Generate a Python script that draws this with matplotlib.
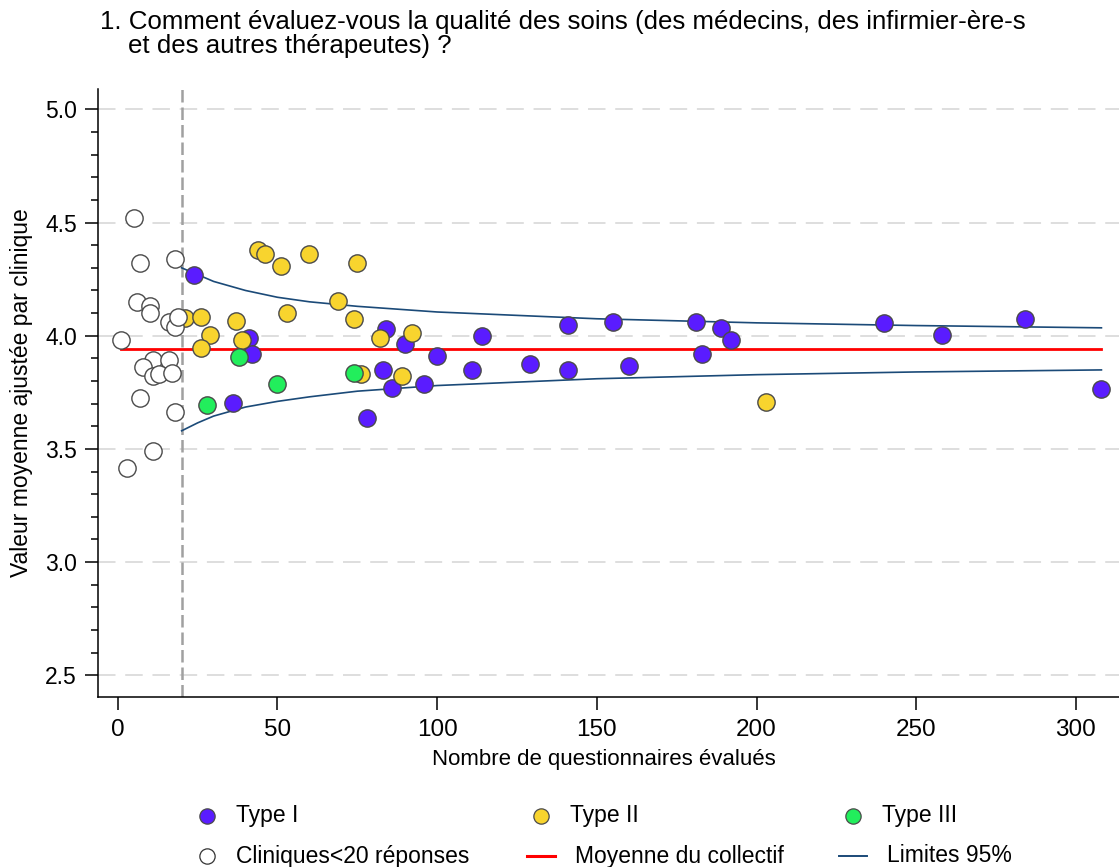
import matplotlib
matplotlib.use('Agg')
import matplotlib.pyplot as plt
from matplotlib.lines import Line2D

plt.rcParams['font.family'] = ['Liberation Sans', 'DejaVu Sans']
plt.rcParams['font.size'] = 16

# clinics by type: number of questionnaires, adjusted mean
type1_n = [24, 41, 42, 36, 84, 90, 83, 86, 78, 96, 100, 114, 111, 129, 141, 141,
           155, 160, 181, 183, 189, 192, 240, 258, 284, 308]
type1_y = [4.27, 3.99, 3.92, 3.705, 4.03, 3.965, 3.85, 3.77, 3.637, 3.785, 3.91, 4.0,
           3.85, 3.875, 4.048, 3.85, 4.06, 3.865, 4.062, 3.92, 4.033, 3.98, 4.055,
           4.005, 4.073, 3.765]
type2_n = [44, 46, 51, 60, 75, 69, 53, 74, 21, 26, 37, 29, 39, 26, 82, 92, 76, 89, 203]
type2_y = [4.38, 4.36, 4.31, 4.36, 4.32, 4.155, 4.10, 4.075, 4.08, 4.085, 4.066,
           4.005, 3.98, 3.945, 3.99, 4.01, 3.83, 3.82, 3.707]
type3_n = [38, 28, 50, 74]
type3_y = [3.905, 3.695, 3.788, 3.836]
small_n = [5, 7, 18, 6, 10, 10, 16, 18, 19, 1, 11, 16, 8, 11, 13, 17, 7, 18, 11, 3]
small_y = [4.52, 4.32, 4.34, 4.15, 4.13, 4.10, 4.06, 4.04, 4.085, 3.98, 3.895, 3.895,
           3.86, 3.82, 3.83, 3.835, 3.725, 3.665, 3.49, 3.415]

mean_value = 3.942
mean_range = [1, 308]

# 95% limits read at a few sample sizes
lim_n = [20, 25, 30, 40, 50, 60, 75, 100, 125, 150, 200, 250, 308]
lim_upper = [4.30, 4.27, 4.24, 4.20, 4.17, 4.15, 4.13, 4.105, 4.09, 4.075, 4.057, 4.045, 4.035]
lim_lower = [3.58, 3.615, 3.645, 3.685, 3.71, 3.73, 3.755, 3.78, 3.795, 3.81, 3.828, 3.84, 3.849]

cutoff = 20

purple = '#5A1CFF'
yellow = '#F8D42E'
green = '#22EE5C'
edge = '#4A4A4A'
navy = '#1B4A78'

W, H = 1119, 867
fig = plt.figure(figsize=(W / 100, H / 100), dpi=100)
ax = fig.add_axes([97.8 / W, 1 - 696.7 / H, 1 - 97.8 / W, (696.7 - 89.3) / H])

ax.set_xlim(-6.26, 313.5)
ax.set_ylim(2.405, 5.089)

for yv in [2.5, 3.0, 3.5, 4.0, 4.5, 5.0]:
    ax.axhline(yv, color='#DEDEDE', lw=1.4, ls=(0, (9, 5)), zorder=0)
ax.axvline(cutoff, color='#A0A0A0', lw=1.8, ls=(0, (5, 2)), zorder=1)

ax.plot(mean_range, [mean_value, mean_value], color='#FF0000', lw=2.0, zorder=2)
ax.plot(lim_n, lim_upper, color=navy, lw=1.2, zorder=2)
ax.plot(lim_n, lim_lower, color=navy, lw=1.2, zorder=2)

ax.scatter(type1_n, type1_y, s=155, c=purple, edgecolors=edge, linewidths=1.0, zorder=3)
ax.scatter(type2_n, type2_y, s=155, c=yellow, edgecolors=edge, linewidths=1.0, zorder=4)
ax.scatter(type3_n, type3_y, s=155, c=green, edgecolors=edge, linewidths=1.0, zorder=5)
ax.scatter(small_n, small_y, s=155, c='white', edgecolors=edge, linewidths=1.0, zorder=6)

ax.spines['top'].set_visible(False)
ax.spines['right'].set_visible(False)
ax.spines['left'].set_linewidth(1.1)
ax.spines['bottom'].set_linewidth(1.1)

ax.set_xticks([0, 50, 100, 150, 200, 250, 300])
ax.set_yticks([2.5, 3.0, 3.5, 4.0, 4.5, 5.0])
ax.set_yticklabels(['2.5', '3.0', '3.5', '4.0', '4.5', '5.0'])
ax.set_yticks([2.5 + 0.1 * i for i in range(26) if i % 5 != 0], minor=True)
ax.tick_params(axis='both', which='major', length=9.4, width=1.1, pad=5.5)
ax.tick_params(axis='y', which='minor', length=5, width=1.1)
ax.tick_params(axis='x', pad=7, labelsize=17.5)
ax.tick_params(axis='y', labelsize=16.5)


def fx(x):
    return x / W


def fy(y):
    return 1 - y / H


fig.text(fx(100), fy(29.3), '1. Comment évaluez-vous la qualité des soins (des médecins, des infirmier-ère-s',
         va='baseline', ha='left', fontsize=18.6)
fig.text(fx(128.5), fy(53.5), 'et des autres thérapeutes) ?', va='baseline', ha='left', fontsize=18.6)

fig.text(fx(604), fy(765), 'Nombre de questionnaires évalués', ha='center', va='baseline', fontsize=16)
fig.text(fx(21.7), fy(393), 'Valeur moyenne ajustée par clinique', rotation=90,
         ha='center', va='center', fontsize=16.5)

# legend drawn by hand in two rows of three
row1, row2 = 815.5, 856
marker_items = [(207, row1, purple, 'Type I'), (541, row1, yellow, 'Type II'),
                (853, row1, green, 'Type III'), (207, row2, 'white', 'Cliniques<20 réponses')]
for x, y, col, label in marker_items:
    ec = edge if col != 'white' else '#333333'
    fig.add_artist(Line2D([fx(x)], [fy(y)], marker='o', markersize=11, markerfacecolor=col,
                          markeredgecolor=ec, markeredgewidth=0.9, transform=fig.transFigure))
    fig.text(fx(x + 29), fy(y), label, ha='left', va='center', fontsize=16.5)

line_items = [(527, 555, '#FF0000', 2.2, 'Moyenne du collectif'), (839, 867, navy, 1.4, 'Limites 95%')]
for x0, x1, col, lw, label in line_items:
    fig.add_artist(Line2D([fx(x0), fx(x1)], [fy(row2), fy(row2)], color=col, lw=lw,
                          transform=fig.transFigure))
    fig.text(fx(x1 + 20), fy(row2), label, ha='left', va='center', fontsize=16.5)

fig.savefig('out.png', dpi=100)
